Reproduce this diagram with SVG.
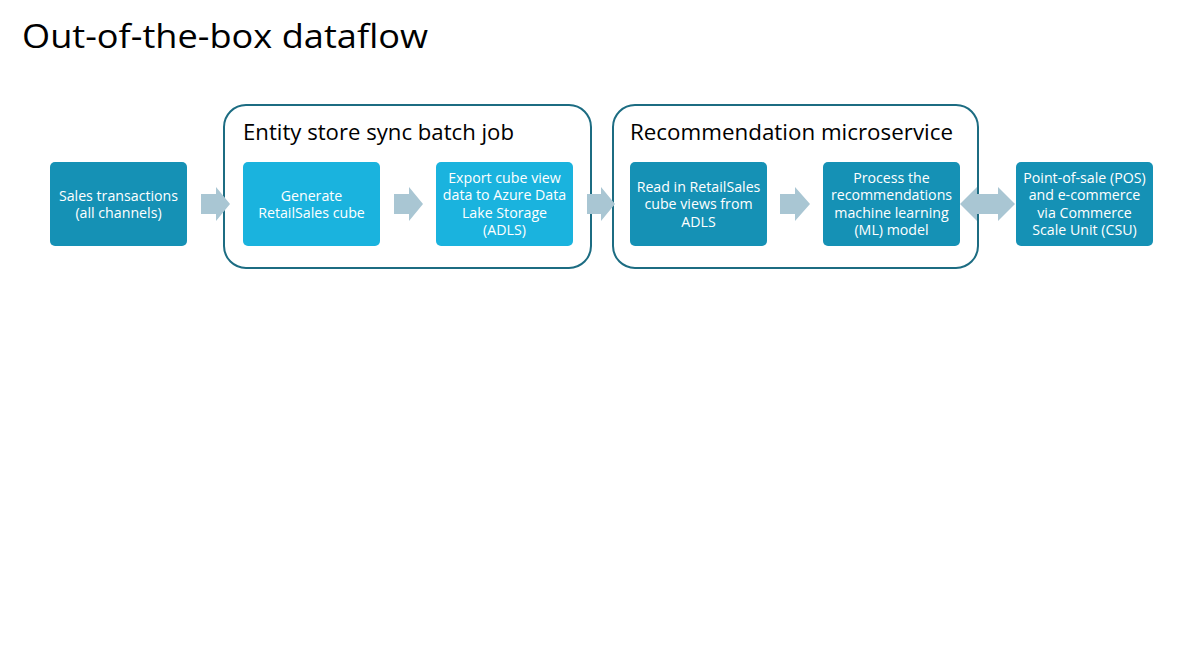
<svg xmlns="http://www.w3.org/2000/svg" width="1179" height="648" viewBox="0 0 1179 648">
<style>
.bg{fill:#ffffff}
.dark{fill:#1591B5}
.light{fill:#1AB3DE}
.cont{fill:none;stroke:#1C6C82;stroke-width:2}
.arr{fill:#A9C6D3}
.t{font-family:"Open Sans","Noto Sans",sans-serif;font-size:14.2px;fill:#ffffff;text-anchor:middle}
.h{font-family:"Open Sans","Noto Sans",sans-serif;font-size:21px;fill:#000000}
.title{font-family:"Open Sans","Noto Sans",sans-serif;font-size:33px;fill:#000000}
</style>
<rect class="bg" x="0" y="0" width="1179" height="648"/>
<text class="title" x="22" y="48" textLength="406" lengthAdjust="spacingAndGlyphs">Out-of-the-box dataflow</text>
<g id="container-entity">
<rect class="cont" x="224" y="105" width="367" height="163" rx="22"/>
<text class="h" x="243" y="140" textLength="271" lengthAdjust="spacingAndGlyphs">Entity store sync batch job</text>
</g>
<g id="container-reco">
<rect class="cont" x="613" y="105" width="365" height="163" rx="22"/>
<text class="h" x="630" y="140" textLength="323" lengthAdjust="spacingAndGlyphs">Recommendation microservice</text>
</g>
<g id="connectors">
<polygon class="arr" points="201,194 216,194 216,187 230,204 216,221 216,214 201,214"/>
<polygon class="arr" points="394,194 409,194 409,187 423,204 409,221 409,214 394,214"/>
<polygon class="arr" points="587,194 601,194 601,187 615,204 601,221 601,214 587,214"/>
<polygon class="arr" points="780,194 795,194 795,187 810,204 795,221 795,214 780,214"/>
<polygon class="arr" points="960,204 977,187 977,194 998,194 998,187 1015,204 998,221 998,214 977,214 977,221"/>
</g>
<g id="sales">
<rect class="dark" x="50" y="162" width="137" height="84" rx="5"/>
<text class="t" x="118.5" y="201">Sales transactions</text>
<text class="t" x="118.5" y="218">(all channels)</text>
</g>
<g id="generate">
<rect class="light" x="243" y="162" width="137" height="84" rx="5"/>
<text class="t" x="311.5" y="201">Generate</text>
<text class="t" x="311.5" y="218">RetailSales cube</text>
</g>
<g id="export">
<rect class="light" x="436" y="162" width="137" height="84" rx="5"/>
<text class="t" x="504.5" y="183">Export cube view</text>
<text class="t" x="504.5" y="200">data to Azure Data</text>
<text class="t" x="504.5" y="218">Lake Storage</text>
<text class="t" x="504.5" y="235">(ADLS)</text>
</g>
<g id="read">
<rect class="dark" x="630" y="162" width="137" height="84" rx="5"/>
<text class="t" x="698.5" y="192">Read in RetailSales</text>
<text class="t" x="698.5" y="209">cube views from</text>
<text class="t" x="698.5" y="227">ADLS</text>
</g>
<g id="process">
<rect class="dark" x="823" y="162" width="137" height="84" rx="5"/>
<text class="t" x="891.5" y="183">Process the</text>
<text class="t" x="891.5" y="200">recommendations</text>
<text class="t" x="891.5" y="218">machine learning</text>
<text class="t" x="891.5" y="235">(ML) model</text>
</g>
<g id="pos">
<rect class="dark" x="1016" y="162" width="137" height="84" rx="5"/>
<text class="t" x="1084.5" y="183">Point-of-sale (POS)</text>
<text class="t" x="1084.5" y="200">and e-commerce</text>
<text class="t" x="1084.5" y="218">via Commerce</text>
<text class="t" x="1084.5" y="235">Scale Unit (CSU)</text>
</g>
</svg>
